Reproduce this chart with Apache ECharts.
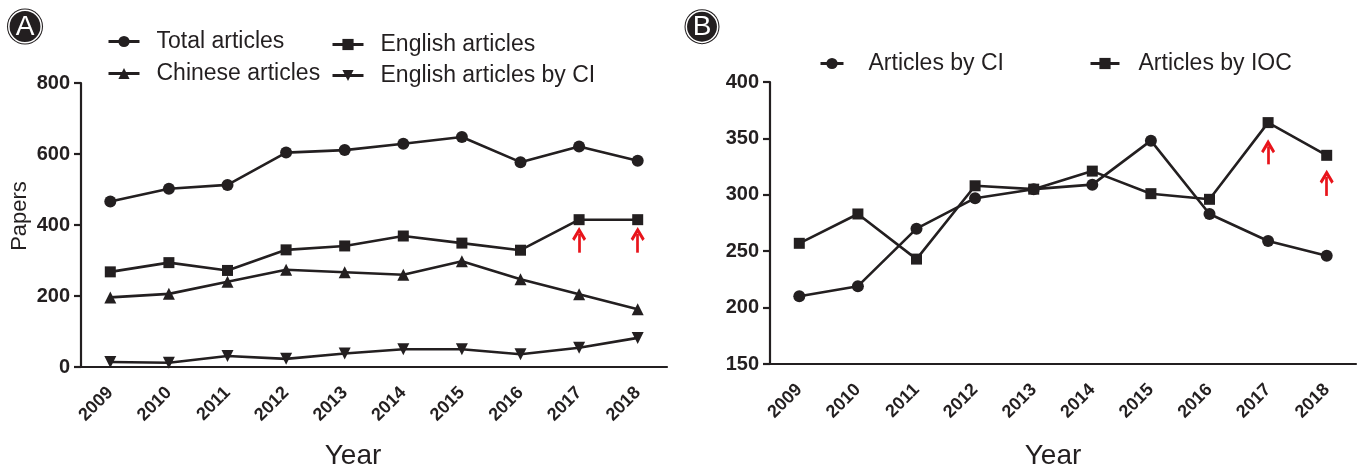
<!DOCTYPE html>
<html>
<head>
<meta charset="utf-8">
<script src="https://cdn.jsdelivr.net/npm/echarts@6/dist/echarts.min.js"></script>
<style>
  html, body { margin: 0; padding: 0; background: #fff; }
  #chart { width: 1363px; height: 471px; }
</style>
</head>
<body>
<div id="chart"></div>
<script>
// Publication counts per year, 2009–2018
const years = ['2009', '2010', '2011', '2012', '2013', '2014', '2015', '2016', '2017', '2018'];

// Panel A
const totalArticles   = [466, 502, 513, 604, 611, 629, 648, 577, 621, 581];
const englishArticles = [268, 294, 272, 330, 341, 369, 349, 329, 415, 415];
const chineseArticles = [196, 206, 240, 274, 267, 260, 298, 247, 205, 163];
const englishByCI     = [14, 12, 31, 23, 38, 50, 50, 36, 54, 82];
const ticksA = { min: 0, max: 800, step: 200 };

// Panel B
const articlesByCI  = [210, 219, 270, 297, 305, 309, 348, 283, 259, 246];
const articlesByIOC = [257, 283, 243, 308, 305, 321, 301, 296, 364, 335];
const ticksB = { min: 150, max: 400, step: 50 };

// Red arrows below the highlighted points: [year index, tail value, head value]
const arrowsA = [[8, 322, 375], [9, 322, 375]];
const arrowsB = [[8, 327, 343], [9, 299, 316]];

const INK = '#231f20';
const RED = '#e8141b';
const FONT = '"Liberation Sans", Arial, Helvetica, sans-serif';
const CHEVRON = 'path://M5,0 L10,7.8 L8.4,9.2 L5,4 L1.6,9.2 L0,7.8 Z';

function arrowMarks(list) {
  return {
    silent: true,
    animation: false,
    symbol: ['none', CHEVRON],
    symbolSize: 14,
    label: { show: false },
    lineStyle: { color: RED, width: 2.7, type: 'solid' },
    emphasis: { disabled: true },
    data: list.map(a => [{ coord: [a[0], a[1]] }, { coord: [a[0], a[2]] }])
  };
}

function xAxis(gridIndex, namePadRight, nameGap) {
  return {
    type: 'category', gridIndex, data: years, boundaryGap: true,
    name: 'Year', nameLocation: 'middle', nameGap,
    nameTextStyle: { fontFamily: FONT, fontSize: 28, color: INK, padding: [0, namePadRight, 0, 0] },
    axisLine: { lineStyle: { color: INK, width: 2.2 } },
    axisTick: { alignWithLabel: true, length: 8, lineStyle: { color: INK, width: 2.2 } },
    axisLabel: { rotate: 45, margin: 23, fontFamily: FONT, fontWeight: 'bold', fontSize: 18, color: INK },
    splitLine: { show: false }
  };
}

function yAxis(gridIndex, t, name) {
  return {
    type: 'value', gridIndex, min: t.min, max: t.max, interval: t.step,
    name, nameLocation: 'middle', nameGap: 50,
    nameTextStyle: { fontFamily: FONT, fontSize: 22, color: INK, padding: [0, 0, 0, 18] },
    axisLine: { show: true, lineStyle: { color: INK, width: 2.2 } },
    axisTick: { show: true, length: 7, lineStyle: { color: INK, width: 2.2 } },
    axisLabel: { margin: 11, fontFamily: FONT, fontWeight: 'bold', fontSize: 20, color: INK },
    splitLine: { show: false }
  };
}

function lineSeries(name, data, symbol, size, axisIdx, extra) {
  return Object.assign({
    name, type: 'line', data, symbol, symbolSize: size,
    xAxisIndex: axisIdx, yAxisIndex: axisIdx,
    lineStyle: { color: INK, width: 2.6 },
    itemStyle: { color: INK },
    emphasis: { disabled: true }
  }, extra || {});
}

function legendAt(name, left, top, iconW, textPad) {
  return {
    data: [name], left, top, padding: 0,
    itemWidth: iconW, itemHeight: 14,
    selectedMode: false,
    lineStyle: { width: 3 },
    textStyle: { fontFamily: FONT, fontSize: 23, color: INK, padding: [0, 0, 0, textPad] }
  };
}

function badge(letter, cx, cy, r) {
  return {
    type: 'group', children: [
      { type: 'circle', shape: { cx, cy, r }, style: { fill: INK } },
      { type: 'circle', shape: { cx, cy, r: r - 1.8 }, style: { fill: 'none', stroke: '#fff', lineWidth: 1.5 } },
      { type: 'text', x: cx, y: cy + 1, style: { text: letter, fill: '#fff', font: '28px ' + FONT, align: 'center', verticalAlign: 'middle' } }
    ]
  };
}

const chart = echarts.init(document.getElementById('chart'), null, { renderer: 'canvas' });
chart.setOption({
  animation: false,
  backgroundColor: '#fff',
  grid: [
    { left: 81, right: 696, top: 83, bottom: 104, outerBoundsMode: 'none', containLabel: false },
    { left: 770, right: 7, top: 82, bottom: 107, outerBoundsMode: 'none', containLabel: false }
  ],
  xAxis: [xAxis(0, 42, 75), xAxis(1, 20, 78)],
  yAxis: [yAxis(0, ticksA, 'Papers'), yAxis(1, ticksB, '')],
  legend: [
    legendAt('Total articles', 107, 30, 31, 12),
    legendAt('Chinese articles', 107, 62, 31, 12),
    legendAt('English articles', 331, 33, 31, 12),
    legendAt('English articles by CI', 331, 64, 31, 12),
    legendAt('Articles by CI', 819, 52, 23, 20),
    legendAt('Articles by IOC', 1089, 52, 29, 14)
  ],
  graphic: [badge('A', 25, 26.5, 18), badge('B', 702, 26.7, 17.5)],
  series: [
    lineSeries('Total articles', totalArticles, 'circle', 12, 0),
    lineSeries('English articles', englishArticles, 'rect', 11, 0, { markLine: arrowMarks(arrowsA) }),
    lineSeries('Chinese articles', chineseArticles, 'triangle', 12, 0),
    lineSeries('English articles by CI', englishByCI, 'path://M0,0 L10,0 L5,9 Z', 12, 0),
    lineSeries('Articles by CI', articlesByCI, 'circle', 12, 1),
    lineSeries('Articles by IOC', articlesByIOC, 'rect', 11, 1, { markLine: arrowMarks(arrowsB) })
  ]
});
</script>
</body>
</html>
